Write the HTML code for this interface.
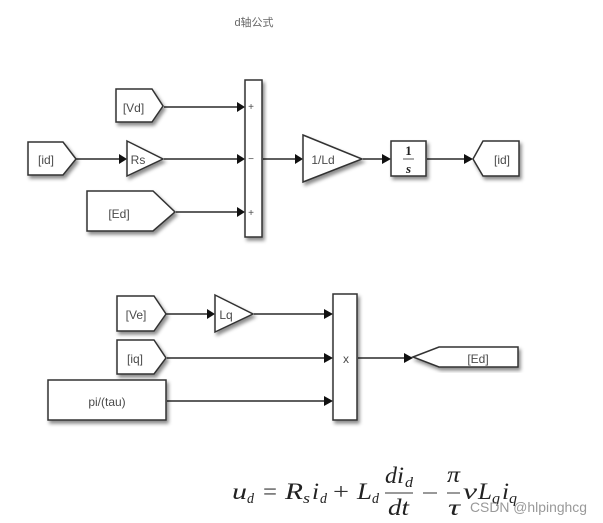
<!DOCTYPE html>
<html>
<head>
<meta charset="utf-8">
<style>
html,body{margin:0;padding:0;background:#fff;width:603px;height:523px;overflow:hidden}
svg{display:block;filter:blur(0.35px)}
.b{fill:#fff;stroke:#333;stroke-width:1.5;filter:url(#s)}
.l{stroke:#2a2a2a;stroke-width:1.4;fill:none}
.a{fill:#111;stroke:none}
.t{font-family:"Liberation Sans",sans-serif;font-size:12px;fill:#4a4a4a;text-anchor:middle}
.m{font-family:"Liberation Serif",serif;font-style:italic;font-size:23px;fill:#222}
.r{font-family:"Liberation Serif",serif;font-size:23px;fill:#333}
.u{font-family:"Liberation Serif",serif;font-style:italic;font-size:15px;fill:#222}
</style>
</head>
<body>
<svg width="603" height="523" viewBox="0 0 603 523" xmlns="http://www.w3.org/2000/svg">
<defs>
<filter id="s" x="-20%" y="-20%" width="150%" height="150%">
<feDropShadow dx="2" dy="3" stdDeviation="1.8" flood-color="#000" flood-opacity="0.45"/>
</filter>
</defs>
<text x="254" y="26" style="font-family:'Liberation Sans','Noto Sans CJK SC',sans-serif;font-size:11px;fill:#666;text-anchor:middle">d轴公式</text>

<!-- top lines -->
<path class="l" d="M164 107H240M76 159H122M164 159H240M176 212H240M263 159H298M363 159H386M427 159H468"/>
<path class="a" d="M237 102l8 5-8 5zM119 154l8 5-8 5zM237 154l8 5-8 5zM237 207l8 5-8 5zM295 154l8 5-8 5zM382 154l9 5-9 5zM464 154l9 5-9 5z"/>

<!-- top blocks -->
<path class="b" d="M116 89H152L163 106L152 122H116Z"/>
<text class="t" x="133.500" y="112">[Vd]</text>
<path class="b" d="M28 142H63L76 159L63 175H28Z"/>
<text class="t" x="46" y="164">[id]</text>
<path class="b" d="M127 141L163 159L127 176Z"/>
<text class="t" x="138" y="164">Rs</text>
<path class="b" d="M87 191H153L175 212L153 231H87Z"/>
<text class="t" x="119" y="218">[Ed]</text>
<rect class="b" x="245" y="80" width="17" height="157"/>
<text class="t" x="251" y="110" style="font-size:10px">+</text>
<text class="t" x="251" y="162" style="font-size:10px">−</text>
<text class="t" x="251" y="216" style="font-size:10px">+</text>
<path class="b" d="M303 135L362 159L303 182Z"/>
<text class="t" x="323" y="164">1/Ld</text>
<rect class="b" x="391" y="141" width="35" height="35"/>
<text x="408.500" y="155" style="font-family:'Liberation Serif',serif;font-size:13px;font-weight:bold;fill:#222;text-anchor:middle">1</text>
<path d="M403 159H414" stroke="#555" stroke-width="1"/>
<text x="408.500" y="173" style="font-family:'Liberation Serif',serif;font-style:italic;font-weight:bold;font-size:13px;fill:#222;text-anchor:middle">s</text>
<path class="b" d="M473 159L483 141H519V176H483Z"/>
<text class="t" x="502" y="164">[id]</text>

<!-- bottom lines -->
<path class="l" d="M166 314H210M254 314H328M167 358H328M167 401H328M358 358H405"/>
<path class="a" d="M207 309l8 5-8 5zM324 309l9 5-9 5zM324 353l9 5-9 5zM324 396l9 5-9 5zM404 353l9 5-9 5z"/>

<!-- bottom blocks -->
<path class="b" d="M117 296H154L166 314L154 331H117Z"/>
<text class="t" x="136" y="319">[Ve]</text>
<path class="b" d="M215 295L253 314L215 332Z"/>
<text class="t" x="226" y="319">Lq</text>
<path class="b" d="M117 340H154L166 358L154 374H117Z"/>
<text class="t" x="135" y="363">[iq]</text>
<rect class="b" x="48" y="380" width="118" height="40"/>
<text class="t" x="107" y="406">pi/(tau)</text>
<rect class="b" x="333" y="294" width="24" height="126"/>
<text class="t" x="346" y="363">x</text>
<path class="b" d="M413 357L439 347H518V367H439Z"/>
<text class="t" x="478" y="363">[Ed]</text>

<!-- formula -->
<g>
<text class="m" x="232" y="499" textLength="15" lengthAdjust="spacingAndGlyphs">u</text><text class="u" x="247" y="503" textLength="7" lengthAdjust="spacingAndGlyphs">d</text>
<text class="r" x="263" y="499" textLength="14" lengthAdjust="spacingAndGlyphs">=</text>
<text class="m" x="285" y="499" textLength="18" lengthAdjust="spacingAndGlyphs">R</text><text class="u" x="303" y="503" textLength="7" lengthAdjust="spacingAndGlyphs">s</text>
<text class="m" x="312" y="499" textLength="7" lengthAdjust="spacingAndGlyphs">i</text><text class="u" x="320" y="503" textLength="7" lengthAdjust="spacingAndGlyphs">d</text>
<text class="r" x="333" y="499" textLength="16" lengthAdjust="spacingAndGlyphs">+</text>
<text class="m" x="357" y="499" textLength="15" lengthAdjust="spacingAndGlyphs">L</text><text class="u" x="372" y="503" textLength="7" lengthAdjust="spacingAndGlyphs">d</text>
<text class="m" x="385" y="483" textLength="12" lengthAdjust="spacingAndGlyphs">d</text><text class="m" x="397" y="483" textLength="7" lengthAdjust="spacingAndGlyphs">i</text><text class="u" x="405" y="487" textLength="8" lengthAdjust="spacingAndGlyphs">d</text>
<path d="M385 493H413" stroke="#333" stroke-width="1"/>
<text class="m" x="388" y="515" textLength="21" lengthAdjust="spacingAndGlyphs">dt</text>
<path d="M423 493H437" stroke="#333" stroke-width="1"/>
<text class="m" x="447" y="482" textLength="13" lengthAdjust="spacingAndGlyphs">π</text>
<path d="M447 493H460" stroke="#333" stroke-width="1"/>
<text class="m" x="448" y="515" textLength="12" lengthAdjust="spacingAndGlyphs">τ</text>
<text class="m" x="463" y="499" textLength="14" lengthAdjust="spacingAndGlyphs">v</text>
<text class="m" x="478" y="499" textLength="14" lengthAdjust="spacingAndGlyphs">L</text><text class="u" x="492" y="503" textLength="8" lengthAdjust="spacingAndGlyphs">q</text>
<text class="m" x="502" y="499" textLength="7" lengthAdjust="spacingAndGlyphs">i</text><text class="u" x="509" y="503" textLength="8" lengthAdjust="spacingAndGlyphs">q</text>
</g>
<text x="470" y="512" textLength="117" lengthAdjust="spacingAndGlyphs" style="font-family:'Liberation Sans',sans-serif;font-size:14px;fill:#999">CSDN @hlpinghcg</text>
</svg>
</body>
</html>
